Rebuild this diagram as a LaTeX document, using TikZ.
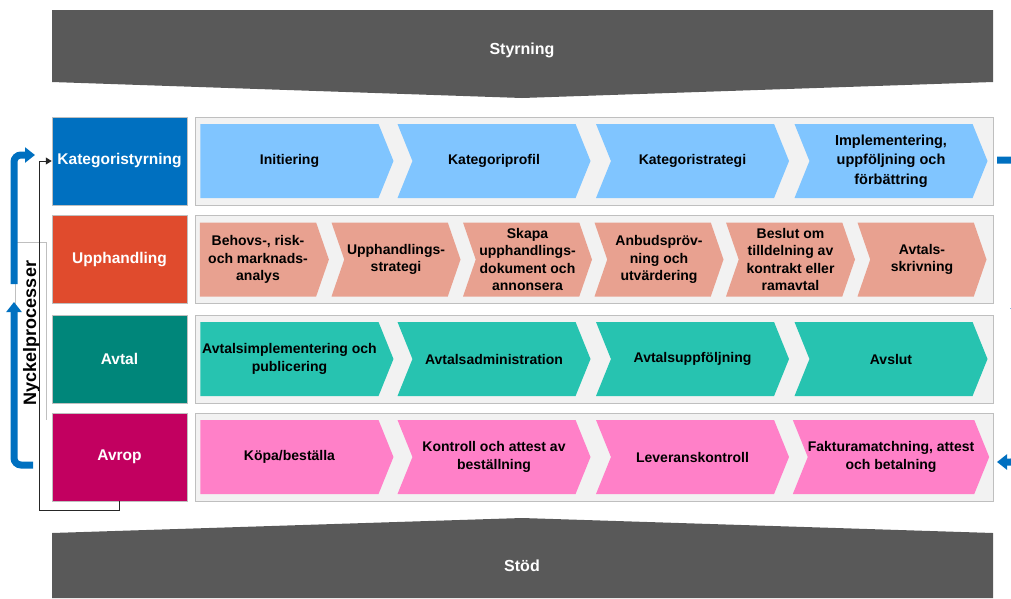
\documentclass[tikz,border=0pt]{standalone}
\usepackage{fontspec}
\setmainfont{Liberation Sans}
\usetikzlibrary{shapes.symbols,arrows.meta}
\definecolor{barGray}{HTML}{595959}
\definecolor{katDark}{HTML}{0070C0}
\definecolor{katLight}{HTML}{80C5FF}
\definecolor{uppDark}{HTML}{E04B2D}
\definecolor{uppLight}{HTML}{E8A190}
\definecolor{avtDark}{HTML}{00867A}
\definecolor{avtLight}{HTML}{27C3B0}
\definecolor{avrDark}{HTML}{C20060}
\definecolor{avrLight}{HTML}{FF80C8}
\definecolor{panelGray}{HTML}{F2F2F2}
\definecolor{panelLine}{HTML}{BFBFBF}
\definecolor{loopBlue}{HTML}{0070C0}

\begin{document}
\begin{tikzpicture}[x=1pt,y=-1pt,
	rowbox/.style={draw=panelLine,line width=0.5pt,minimum width=135pt,minimum height=88pt,inner sep=0pt,text=white,font=\bfseries\fontsize{15.5}{18}\selectfont},
	panel/.style={draw=panelLine,fill=panelGray,line width=0.8pt,minimum width=798pt,minimum height=88pt,inner sep=0pt},
	chevfirst/.style={shape=signal,signal to=east,signal from=nowhere,signal pointer angle=136,draw=none,inner sep=0pt,minimum width=193pt,minimum height=74pt,align=center,font=\bfseries\fontsize{14}{18}\selectfont},
	chev/.style={chevfirst,signal from=west},
	smallfirst/.style={chevfirst,minimum width=129pt,signal pointer angle=142,font=\bfseries\fontsize{14}{17.6}\selectfont},
	small/.style={smallfirst,signal from=west},
	bartext/.style={text=white,font=\bfseries\fontsize{16}{18}\selectfont},
	loopArrow/.style={draw=loopBlue,line width=7pt,rounded corners=7pt,-{Triangle[width=15pt,length=10pt]}},
	feedline/.style={draw=black!85,line width=1pt,-{Triangle[width=7pt,length=6pt]}}]
	\useasboundingbox (0,0) rectangle (1011,598);

	% Styrning / Stöd
	\fill[barGray] (52,10) -- (993,10) -- (993,82) -- (522,98) -- (52,82) -- cycle;
	\node[bartext] (styrning) at (522,50) {Styrning};
	\fill[barGray] (52,533) -- (522,518) -- (993,533) -- (993,598) -- (52,598) -- cycle;
	\node[bartext] (stod) at (522,566) {Stöd};

	% panels
	\node[panel] (p1) at (594,161) {};
	\node[panel] (p2) at (594,259.5) {};
	\node[panel] (p3) at (594,359) {};
	\node[panel] (p4) at (594,457) {};

	% row labels
	\node[rowbox,fill=katDark] (kat) at (119.5,161) {Kategoristyrning};
	\node[rowbox,fill=uppDark] (upp) at (119.5,259.5) {Upphandling};
	\node[rowbox,fill=avtDark] (avt) at (119.5,359) {Avtal};
	\node[rowbox,fill=avrDark] (avr) at (119.5,457) {Avrop};

	% Kategoristyrning
	\node[chevfirst,fill=katLight] (k1) at (289.5,161) {Initiering};
	\node[chev,fill=katLight] (k2) at (494,161) {Kategoriprofil};
	\node[chev,fill=katLight] (k3) at (692.5,161) {Kategoristrategi};
	\node[chev,fill=katLight,font=\bfseries\fontsize{14.5}{19.5}\selectfont] (k4) at (891,161) {Implementering,\\uppföljning och\\förbättring};

	% Upphandling
	\node[smallfirst,fill=uppLight] (u1) at (258,259.5) {Behovs-, risk-\\och marknads-\\analys};
	\node[small,fill=uppLight] (u2) at (396,259.5) {Upphandlings-\\strategi};
	\node[small,fill=uppLight] (u3) at (527.5,259.5) {Skapa\\upphandlings-\\dokument och\\annonsera};
	\node[small,fill=uppLight] (u4) at (659,259.5) {Anbudspröv-\\ning och\\utvärdering};
	\node[small,fill=uppLight] (u5) at (790.5,259.5) {Beslut om\\tilldelning av\\kontrakt eller\\ramavtal};
	\node[small,fill=uppLight] (u6) at (922,259.5) {Avtals-\\skrivning};

	% Avtal
	\node[chevfirst,fill=avtLight] (a1) at (289.5,359) {Avtalsimplementering och\\publicering};
	\node[chev,fill=avtLight] (a2) at (494,359) {Avtalsadministration};
	\node[chev,fill=avtLight] (a3) at (692.5,359) {Avtalsuppföljning};
	\node[chev,fill=avtLight] (a4) at (891,359) {Avslut};

	% Avrop
	\node[chevfirst,fill=avrLight] (r1) at (289.5,457) {Köpa/beställa};
	\node[chev,fill=avrLight] (r2) at (494,457) {Kontroll och attest av\\beställning};
	\node[chev,fill=avrLight] (r3) at (692.5,457) {Leveranskontroll};
	\node[chev,fill=avrLight] (r4) at (891,457) {Fakturamatchning, attest\\och betalning};

	% Nyckelprocesser
	\draw[panelLine,line width=0.6pt] (15,420) -- (15,242) -- (46,242) -- (46,420);
	\node[rotate=90,inner sep=0pt,font=\bfseries\fontsize{18}{20}\selectfont] (nyckel) at (31.5,333) {Nyckelprocesser};
	\coordinate (lowStart) at (33,465);
	\coordinate (lowEnd) at (14,302);
	\coordinate (upStart) at (14,284);
	\coordinate (upEnd) at (35,155);
	\draw[loopArrow] (lowStart) -| (lowEnd);
	\draw[loopArrow] (upStart) |- (upEnd);
	\coordinate (feedCorner) at (39,510);
	\draw[feedline] (avr.south) |- (feedCorner) |- (kat.west);

	% right loop (cut at the edge)
	\coordinate (rightOut) at (997,160);
	\coordinate (rightMid) at (1018,318);
	\coordinate (rightMid2) at (1018,330);
	\coordinate (rightIn) at (997,462);
	\draw[loopArrow] (rightOut) -| (rightMid);
	\draw[loopArrow] (rightMid2) |- (rightIn);
\end{tikzpicture}
\end{document}
